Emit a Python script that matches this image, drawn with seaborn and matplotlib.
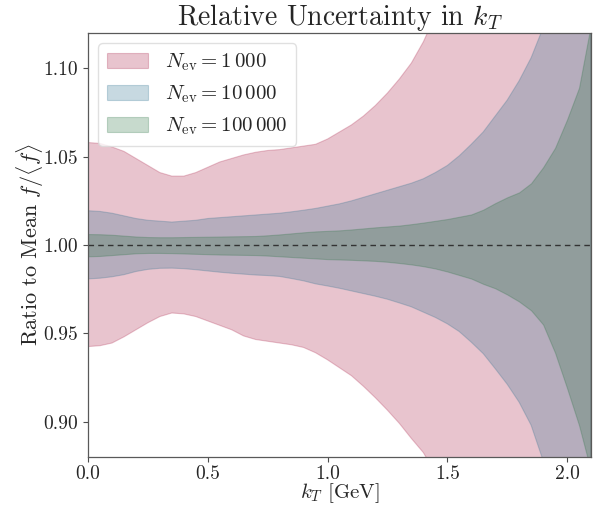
import numpy as np
import matplotlib
matplotlib.use("Agg")
import matplotlib.pyplot as plt
import seaborn as sns

# kT grid [GeV]
kT = [0.00, 0.05, 0.10, 0.15, 0.20, 0.25, 0.30, 0.35, 0.40, 0.45, 0.50,
      0.55, 0.60, 0.65, 0.70, 0.75, 0.80, 0.85, 0.90, 0.95, 1.00,
      1.05, 1.10, 1.15, 1.20, 1.25, 1.30, 1.35, 1.40, 1.45, 1.50,
      1.55, 1.60, 1.65, 1.70, 1.75, 1.80, 1.85, 1.90, 1.95, 2.00,
      2.05, 2.10]

# N_ev = 1 000
up_1k = [1.058, 1.0575, 1.0555, 1.053, 1.049, 1.045, 1.041, 1.039, 1.039, 1.041, 1.044,
         1.047, 1.049, 1.051, 1.0525, 1.0535, 1.054, 1.055, 1.056, 1.057, 1.060,
         1.064, 1.068, 1.073, 1.079, 1.086, 1.094, 1.103, 1.115, 1.130, 1.150,
         1.170, 1.190, 1.215, 1.240, 1.270, 1.300, 1.330, 1.360, 1.390, 1.420,
         1.450, 1.480]
lo_1k = [0.9425, 0.943, 0.9445, 0.948, 0.952, 0.956, 0.9595, 0.9615, 0.961, 0.9595, 0.957,
         0.9545, 0.952, 0.9485, 0.9465, 0.9455, 0.9445, 0.9435, 0.942, 0.939, 0.935,
         0.9305, 0.926, 0.920, 0.9135, 0.9065, 0.899, 0.8905, 0.8825, 0.871, 0.855,
         0.835, 0.810, 0.785, 0.760, 0.730, 0.700, 0.670, 0.640, 0.610, 0.580,
         0.550, 0.520]

# N_ev = 10 000
up_10k = [1.0194, 1.019, 1.018, 1.0165, 1.015, 1.014, 1.0135, 1.013, 1.0135, 1.014, 1.015,
          1.0155, 1.016, 1.0165, 1.017, 1.0175, 1.018, 1.0188, 1.0197, 1.0207, 1.022,
          1.0233, 1.025, 1.027, 1.029, 1.031, 1.033, 1.035, 1.0375, 1.041, 1.045,
          1.0505, 1.057, 1.064, 1.073, 1.082, 1.093, 1.106, 1.123, 1.150, 1.190,
          1.230, 1.270]
lo_10k = [0.9808, 0.9812, 0.982, 0.9832, 0.985, 0.9862, 0.9868, 0.9869, 0.9866, 0.986, 0.9853,
          0.9846, 0.984, 0.9835, 0.983, 0.9827, 0.9822, 0.981, 0.9797, 0.978, 0.9768,
          0.9755, 0.974, 0.9725, 0.971, 0.9693, 0.9672, 0.965, 0.962, 0.959, 0.9554,
          0.951, 0.945, 0.9385, 0.930, 0.9212, 0.911, 0.898, 0.878, 0.850, 0.810,
          0.770, 0.730]

# N_ev = 100 000
up_100k = [1.0062, 1.0061, 1.0058, 1.0053, 1.0048, 1.0045, 1.0044, 1.0044, 1.0045, 1.0046, 1.0047,
           1.0048, 1.0049, 1.0050, 1.0051, 1.0055, 1.0060, 1.0066, 1.0072, 1.0077, 1.0080,
           1.0083, 1.0088, 1.0094, 1.0100, 1.0105, 1.0110, 1.0118, 1.0127, 1.0137, 1.0147,
           1.0160, 1.0173, 1.0200, 1.0237, 1.0270, 1.0298, 1.0350, 1.0440, 1.0550, 1.0710,
           1.0890, 1.1250]
lo_100k = [0.9936, 0.9938, 0.9943, 0.9948, 0.9953, 0.9955, 0.9955, 0.9954, 0.9952, 0.9950, 0.9948,
           0.9946, 0.9945, 0.9944, 0.9943, 0.9940, 0.9936, 0.9932, 0.9928, 0.9924, 0.9920,
           0.9918, 0.9916, 0.9913, 0.9910, 0.9905, 0.9898, 0.9890, 0.9880, 0.9867, 0.9850,
           0.9830, 0.9810, 0.9780, 0.9755, 0.9720, 0.9680, 0.9630, 0.9550, 0.9390, 0.9190,
           0.8980, 0.8720]

labels = [r"$N_{\mathrm{ev}} = 1\,000$", r"$N_{\mathrm{ev}} = 10\,000$",
          r"$N_{\mathrm{ev}} = 100\,000$"]
colors = ["#a7173f", "#236b8b", "#236f3b"]

sns.set_theme(style="ticks")
plt.rcParams["font.family"] = "serif"
plt.rcParams["font.serif"] = ["cmr10", "DejaVu Serif"]
plt.rcParams["mathtext.fontset"] = "cm"
plt.rcParams["axes.formatter.use_mathtext"] = True

fig = plt.figure(figsize=(5.96, 5.11), dpi=100)
ax = fig.add_axes([0.1477, 0.1057, 0.8439, 0.8297])

bands = [(up_1k, lo_1k), (up_10k, lo_10k), (up_100k, lo_100k)]
for (up, lo), c, lab in zip(bands, colors, labels):
    ax.fill_between(kT, lo, up, color=c, alpha=0.25, lw=0.8, label=lab)

ax.axhline(1.0, color="0.2", ls="--", lw=1.0, dashes=(4, 3))

ax.set_xlim(0, 2.1)
ax.set_ylim(0.88, 1.12)
ax.set_xticks([0.0, 0.5, 1.0, 1.5, 2.0])
ax.set_yticks([0.90, 0.95, 1.00, 1.05, 1.10])
ax.set_xticklabels(["0.0", "0.5", "1.0", "1.5", "2.0"])
ax.set_yticklabels(["0.90", "0.95", "1.00", "1.05", "1.10"])
ax.tick_params(labelsize=14, length=3.5, width=0.8, color="0.3")
ax.tick_params(axis="x", pad=2.5)
for s in ax.spines.values():
    s.set_visible(True)
    s.set_color("0.35")
    s.set_linewidth(0.9)

ax.set_xlabel(r"$k_T$ [GeV]", fontsize=15)
ax.xaxis.set_label_coords(0.5, -0.058)
ax.set_ylabel(r"Ratio to Mean $f/\langle f\rangle$", fontsize=16, labelpad=-2)
ax.set_title(r"Relative Uncertainty in $k_T$", fontsize=20, pad=3)

leg = ax.legend(loc="upper left", fontsize=15, frameon=True, framealpha=0.8,
                edgecolor="0.85", fancybox=True, borderaxespad=0.5)

fig.savefig("out.png", dpi=100)
